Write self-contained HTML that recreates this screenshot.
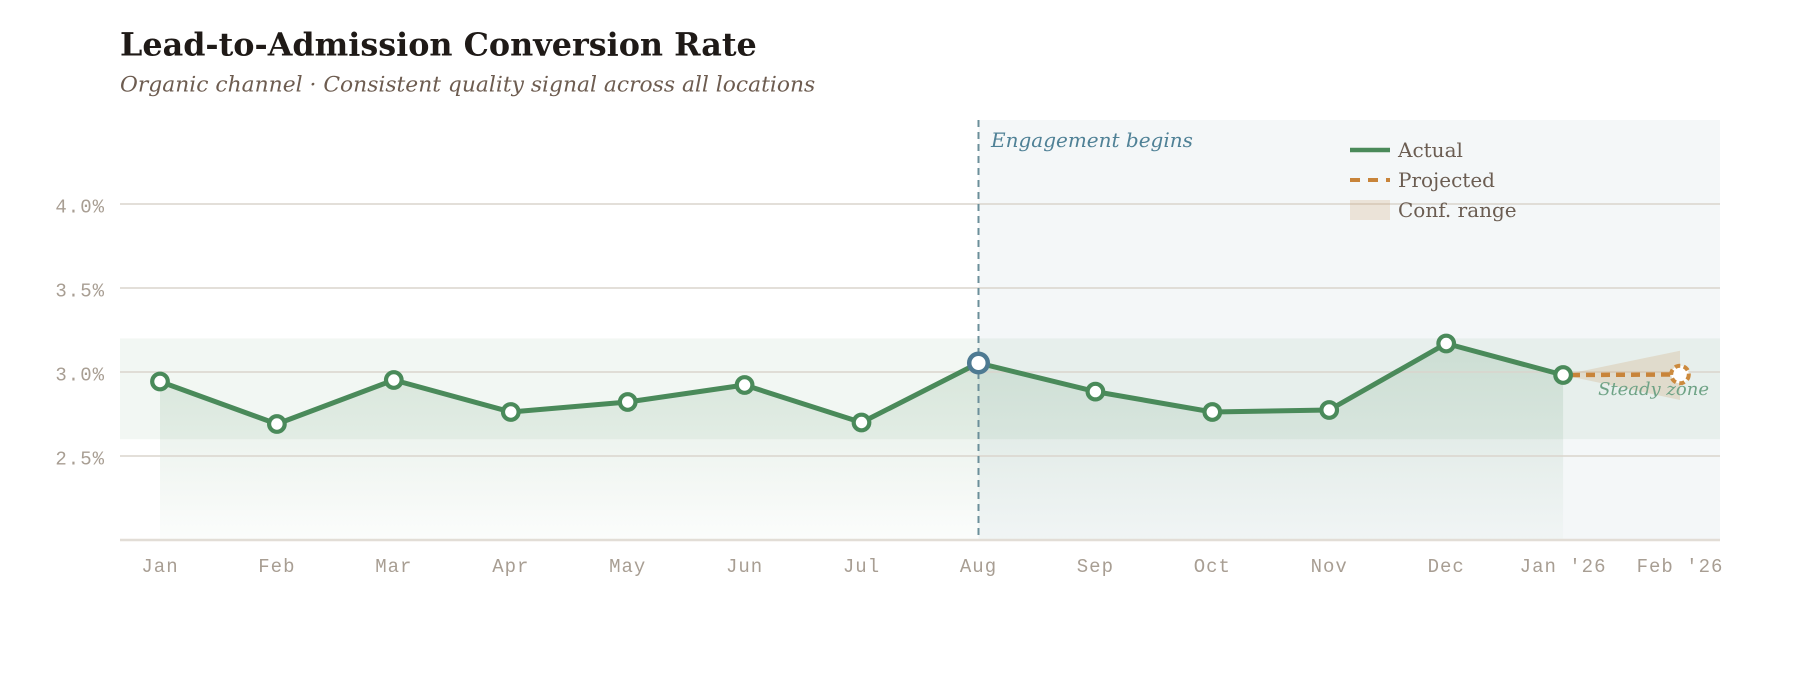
<!DOCTYPE html>
<html>
<head>
<meta charset="utf-8">
<style>
  html, body { margin: 0; padding: 0; background: #ffffff; }
  body { width: 1800px; height: 680px; overflow: hidden; }
  svg { display: block; }
  .tick { font-family: "Liberation Mono", "DejaVu Sans Mono", monospace; font-size: 19px; fill: #a89e93; letter-spacing: 1px; }
  .serif { font-family: "DejaVu Serif", "Liberation Serif", serif; }
</style>
</head>
<body>
<svg width="1800" height="680" viewBox="0 0 1800 680" xmlns="http://www.w3.org/2000/svg">
  <defs>
    <linearGradient id="areaGrad" x1="0" y1="343" x2="0" y2="540" gradientUnits="userSpaceOnUse">
      <stop offset="0" stop-color="#4a8a5a" stop-opacity="0.17"/>
      <stop offset="1" stop-color="#4a8a5a" stop-opacity="0.02"/>
    </linearGradient>
  </defs>

  <!-- Title -->
  <text x="120" y="55.5" class="serif" font-size="31.8" font-weight="bold" fill="#1f1a17">Lead-to-Admission Conversion Rate</text>
  <text x="120" y="91.5" class="serif" font-size="21.8" font-style="italic" fill="#6d5c50">Organic channel · Consistent quality signal across all locations</text>

  <!-- Engagement region -->
  <rect x="978.5" y="120" width="741.5" height="420" fill="#f4f7f8"/>
  <!-- Steady band -->
  <rect x="120" y="338.4" width="1600" height="100.8" fill="#4a8a5a" fill-opacity="0.07"/>

  <!-- Area under line -->
  <path d="M160,381.5 L276.9,424 L393.8,380 L510.8,412 L627.7,402 L744.6,385 L861.5,422.5 L978.5,363 L1095.4,391.6 L1212.3,412 L1329.2,410 L1446.2,343.5 L1563.1,375 L1563.1,540 L160,540 Z" fill="url(#areaGrad)"/>

  <!-- Gridlines -->
  <g stroke="#d9d4cc" stroke-opacity="0.75" stroke-width="2">
    <line x1="120" y1="204" x2="1720" y2="204"/>
    <line x1="120" y1="288" x2="1720" y2="288"/>
    <line x1="120" y1="372" x2="1720" y2="372"/>
    <line x1="120" y1="456" x2="1720" y2="456"/>
  </g>
  <line x1="120" y1="540" x2="1720" y2="540" stroke="#e2ddd6" stroke-width="2.5"/>

  <!-- Y ticks -->
  <g class="tick" text-anchor="end">
    <text x="105" y="212.5">4.0%</text>
    <text x="105" y="296.5">3.5%</text>
    <text x="105" y="380.5">3.0%</text>
    <text x="105" y="464.5">2.5%</text>
  </g>

  <!-- X ticks -->
  <g class="tick" text-anchor="middle">
    <text x="160" y="572">Jan</text>
    <text x="276.9" y="572">Feb</text>
    <text x="393.8" y="572">Mar</text>
    <text x="510.8" y="572">Apr</text>
    <text x="627.7" y="572">May</text>
    <text x="744.6" y="572">Jun</text>
    <text x="861.5" y="572">Jul</text>
    <text x="978.5" y="572">Aug</text>
    <text x="1095.4" y="572">Sep</text>
    <text x="1212.3" y="572">Oct</text>
    <text x="1329.2" y="572">Nov</text>
    <text x="1446.2" y="572">Dec</text>
    <text x="1563.1" y="572">Jan '26</text>
    <text x="1680" y="572">Feb '26</text>
  </g>

  <!-- Confidence cone -->
  <path d="M1563.1,375 L1680,350.7 L1680,400 Z" fill="#c8945a" fill-opacity="0.22"/>

  <!-- Engagement dashed line -->
  <line x1="978.5" y1="120" x2="978.5" y2="535" stroke="#6b8f9a" stroke-width="2" stroke-dasharray="7 5"/>
  <text x="991" y="147" class="serif" font-size="20" font-style="italic" fill="#4f8196">Engagement begins</text>

  <!-- Main line -->
  <polyline points="160,381.5 276.9,424 393.8,380 510.8,412 627.7,402 744.6,385 861.5,422.5 978.5,363 1095.4,391.6 1212.3,412 1329.2,410 1446.2,343.5 1563.1,375" fill="none" stroke="#4a8a5a" stroke-width="5" stroke-linejoin="round" stroke-linecap="round"/>

  <!-- Projected line -->
  <line x1="1571" y1="375" x2="1671" y2="374.5" stroke="#c8843a" stroke-width="4.5" stroke-dasharray="9 6"/>

  <!-- Markers -->
  <g fill="#ffffff" stroke="#4a8a5a" stroke-width="4.2">
    <circle cx="160" cy="381.5" r="7.8"/>
    <circle cx="276.9" cy="424" r="7.8"/>
    <circle cx="393.8" cy="380" r="7.8"/>
    <circle cx="510.8" cy="412" r="7.8"/>
    <circle cx="627.7" cy="402" r="7.8"/>
    <circle cx="744.6" cy="385" r="7.8"/>
    <circle cx="861.5" cy="422.5" r="7.8"/>
    <circle cx="1095.4" cy="391.6" r="7.8"/>
    <circle cx="1212.3" cy="412" r="7.8"/>
    <circle cx="1329.2" cy="410" r="7.8"/>
    <circle cx="1446.2" cy="343.5" r="7.8"/>
    <circle cx="1563.1" cy="375" r="7.8"/>
  </g>
  <circle cx="978.5" cy="363" r="9.3" fill="#ffffff" stroke="#4e7a92" stroke-width="4.5"/>
  <circle cx="1680" cy="374.5" r="8.8" fill="#ffffff" stroke="#cc8a3e" stroke-width="4" stroke-dasharray="5.5 3.5"/>

  <!-- Steady zone label -->
  <text x="1709" y="395" text-anchor="end" class="serif" font-size="18" font-style="italic" fill="#6fa386">Steady zone</text>

  <!-- Legend -->
  <line x1="1350" y1="150" x2="1390" y2="150" stroke="#4a8a5a" stroke-width="4.5"/>
  <text x="1398" y="157" class="serif" font-size="20" fill="#6b5d52">Actual</text>
  <line x1="1350" y1="180" x2="1390" y2="180" stroke="#c8843a" stroke-width="4" stroke-dasharray="10 8"/>
  <text x="1398" y="187" class="serif" font-size="20" fill="#6b5d52">Projected</text>
  <rect x="1350" y="200" width="40" height="20" fill="#c8945a" fill-opacity="0.2"/>
  <text x="1398" y="217" class="serif" font-size="20" fill="#6b5d52">Conf. range</text>
</svg>
</body>
</html>
